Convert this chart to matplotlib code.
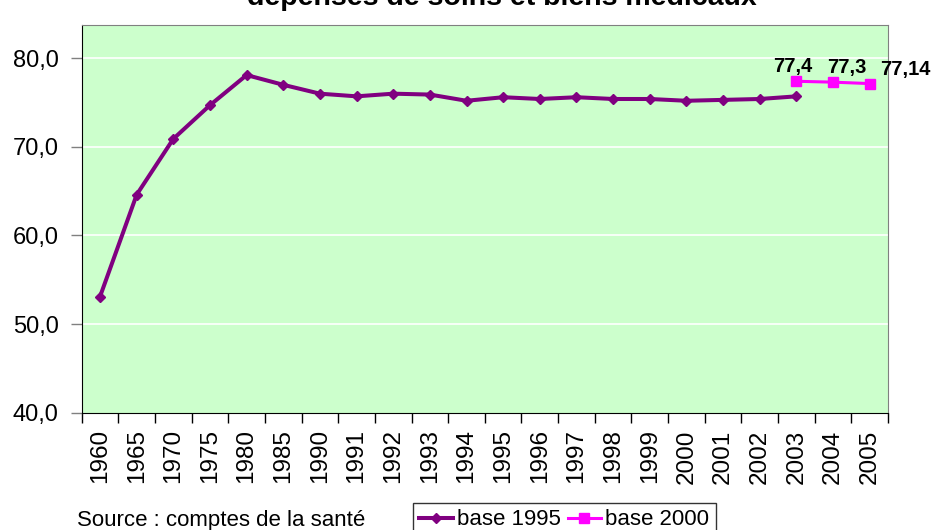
import matplotlib.pyplot as plt

plt.rcParams["font.family"] = ["Liberation Sans", "DejaVu Sans"]

years = ["1960", "1965", "1970", "1975", "1980", "1985", "1990", "1991", "1992",
         "1993", "1994", "1995", "1996", "1997", "1998", "1999", "2000", "2001",
         "2002", "2003", "2004", "2005"]
base_1995 = [53.1, 64.6, 70.9, 74.7, 78.1, 77.0, 76.0, 75.7, 76.0, 75.9, 75.2,
             75.6, 75.4, 75.6, 75.4, 75.4, 75.2, 75.3, 75.4, 75.7]
base_2000 = [77.4, 77.3, 77.14]
base_2000_labels = ["77,4", "77,3", "77,14"]
y_ticks = [40, 50, 60, 70, 80]

x_1995 = list(range(len(base_1995)))
x_2000 = list(range(len(years) - len(base_2000), len(years)))

fig = plt.figure(figsize=(9.33, 5.30), dpi=100)
ax = fig.add_axes([81.7 / 933, 1 - 412.7 / 530, (888 - 81.7) / 933, (412.7 - 25) / 530])
ax.set_facecolor("#CCFFCC")

ax.plot(x_1995, base_1995, color="#800080", lw=2.9, marker="D", ms=5.5,
        label="base 1995", zorder=3)
ax.plot(x_2000, base_2000, color="#FF00FF", lw=2.2, marker="s", ms=7,
        label="base 2000", zorder=3)

# data labels on the base 2000 series
offsets = [(-4, 15), (14, 15), (36, 14)]
for xi, v, txt, off in zip(x_2000, base_2000, base_2000_labels, offsets):
    ax.annotate(txt, (xi, v), xytext=off, textcoords="offset pixels",
                ha="center", va="center", fontsize=14.5, fontweight="bold")

ax.set_xlim(-0.5, len(years) - 0.5)
ax.set_ylim(40, 83.75)
ax.set_yticks(y_ticks)
ax.set_yticklabels([f"{v:.1f}".replace(".", ",") for v in y_ticks], fontsize=17)
ax.tick_params(axis="y", length=8, width=1, color="#808080", pad=8.5)
for v in y_ticks[1:]:
    ax.axhline(v, color="white", lw=1.2, zorder=1)

ax.set_xticks(range(len(years)))
ax.set_xticklabels(years, rotation=90, fontsize=17.5, va="top")
ax.tick_params(axis="x", which="major", length=0, pad=12)
ax.set_xticks([i - 0.5 for i in range(len(years) + 1)], minor=True)
ax.tick_params(axis="x", which="minor", length=7, width=1, color="#000000")

for side in ("left", "bottom"):
    ax.spines[side].set_color("black")
for side in ("top", "right"):
    ax.spines[side].set_color("#808080")

fig.text(502 / 933, 1 - 5 / 530, "dépenses de soins et biens médicaux",
         ha="center", va="baseline", fontsize=20.5, fontweight="bold")
fig.text(77 / 933, 1 - 526 / 530, "Source : comptes de la santé",
         ha="left", va="baseline", fontsize=16)

leg = fig.legend(loc="upper left", bbox_to_anchor=(412.7 / 933, 1 - 502.7 / 530),
                 ncol=2, fontsize=16, frameon=True, fancybox=False,
                 handlelength=1.5, handletextpad=0.2, columnspacing=0.3,
                 borderpad=0.3, borderaxespad=0)
leg.get_frame().set_edgecolor("black")
leg.get_frame().set_linewidth(1)

fig.savefig("out.png", dpi=100)
